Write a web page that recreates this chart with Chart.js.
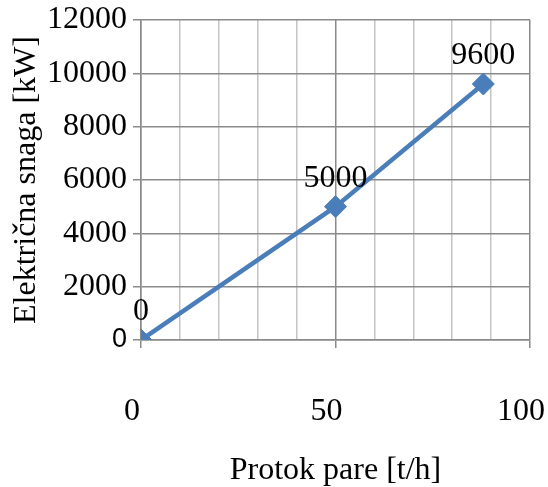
<!DOCTYPE html>
<html>
<head>
<meta charset="utf-8">
<script src="https://cdn.jsdelivr.net/npm/chart.js@4/dist/chart.umd.min.js"></script>
<style>
  html, body { margin: 0; padding: 0; background: #fff; }
  #wrap { width: 548px; height: 487px; }
</style>
</head>
<body>
<div id="wrap"><canvas id="grafico"></canvas></div>
<script>
// Podaci
const protok = [0, 50, 88];
const snaga = [0, 5000, 9600];
const oznakeX = [0, 50, 100];

const SERIF = "'Liberation Serif', 'Times New Roman', serif";
const SANS = "'Liberation Sans', Arial, sans-serif";

// Oznake vrijednosti iznad točaka
const oznakePlugin = {
    id: 'oznake',
    afterDatasetsDraw(chart) {
        const ctx = chart.ctx;
        const meta = chart.getDatasetMeta(0);
        ctx.save();
        ctx.font = '32px ' + SERIF;
        ctx.fillStyle = '#000';
        ctx.textAlign = 'center';
        ctx.textBaseline = 'middle';
        meta.data.forEach((pt, i) => {
            ctx.fillText(String(snaga[i]), pt.x, pt.y - 28);
        });
        ctx.restore();
    }
};

new Chart(document.getElementById('grafico'), {
    type: 'line',
    data: {
        datasets: [{
            data: protok.map((x, i) => ({ x: x, y: snaga[i] })),
            borderColor: '#4A7EBB',
            backgroundColor: '#4A7EBB',
            borderWidth: 4.5,
            pointStyle: 'rectRot',
            pointRadius: 11,
            pointBorderWidth: 1,
            tension: 0
        }]
    },
    options: {
        responsive: true,
        maintainAspectRatio: false,
        animation: false,
        layout: { padding: { top: 20, right: 18, left: 0, bottom: 0 } },
        plugins: { legend: { display: false }, tooltip: { enabled: false } },
        scales: {
            x: {
                type: 'linear',
                min: 0,
                max: 100,
                afterFit(scale) { scale.height = 147; scale.paddingLeft = 0; scale.paddingRight = 0; },
                ticks: {
                    stepSize: 10,
                    autoSkip: false,
                    maxRotation: 0,
                    padding: 44,
                    labelOffset: -9,
                    color: '#000',
                    font: { family: SERIF, size: 32 },
                    callback: v => oznakeX.includes(v) ? String(v) : ''
                },
                grid: {
                    color: ctx => (ctx.tick && ctx.tick.value % 50 === 0) ? '#8a8a8a' : '#c4c4c4',
                    lineWidth: 1.5,
                    tickLength: 8,
                    tickColor: ctx => (ctx.tick && ctx.tick.value % 50 === 0) ? '#8a8a8a' : 'rgba(0,0,0,0)'
                },
                border: { color: '#8a8a8a', width: 1.5 },
                title: {
                    display: true,
                    text: 'Protok pare [t/h]',
                    color: '#000',
                    font: { family: SERIF, size: 32, lineHeight: 1 },
                    padding: { top: 0, bottom: 0 }
                }
            },
            y: {
                min: 0,
                max: 12000,
                afterFit(scale) { scale.width = 141; scale.paddingTop = 0; scale.paddingBottom = 0; },
                ticks: {
                    stepSize: 2000,
                    padding: 6,
                    color: '#000',
                    callback: v => String(v),
                    font: ctx => (ctx.tick && ctx.tick.value === 0)
                        ? { family: SANS, size: 27 }
                        : { family: SERIF, size: 32 }
                },
                grid: {
                    color: '#8a8a8a',
                    lineWidth: 1.5,
                    tickLength: 8
                },
                border: { color: '#8a8a8a', width: 1.5 },
                title: {
                    display: true,
                    text: 'Električna snaga [kW]',
                    color: '#000',
                    font: { family: SERIF, size: 32, lineHeight: 1 },
                    padding: { top: 11, bottom: 0 }
                }
            }
        }
    },
    plugins: [oznakePlugin]
});
</script>
</body>
</html>
